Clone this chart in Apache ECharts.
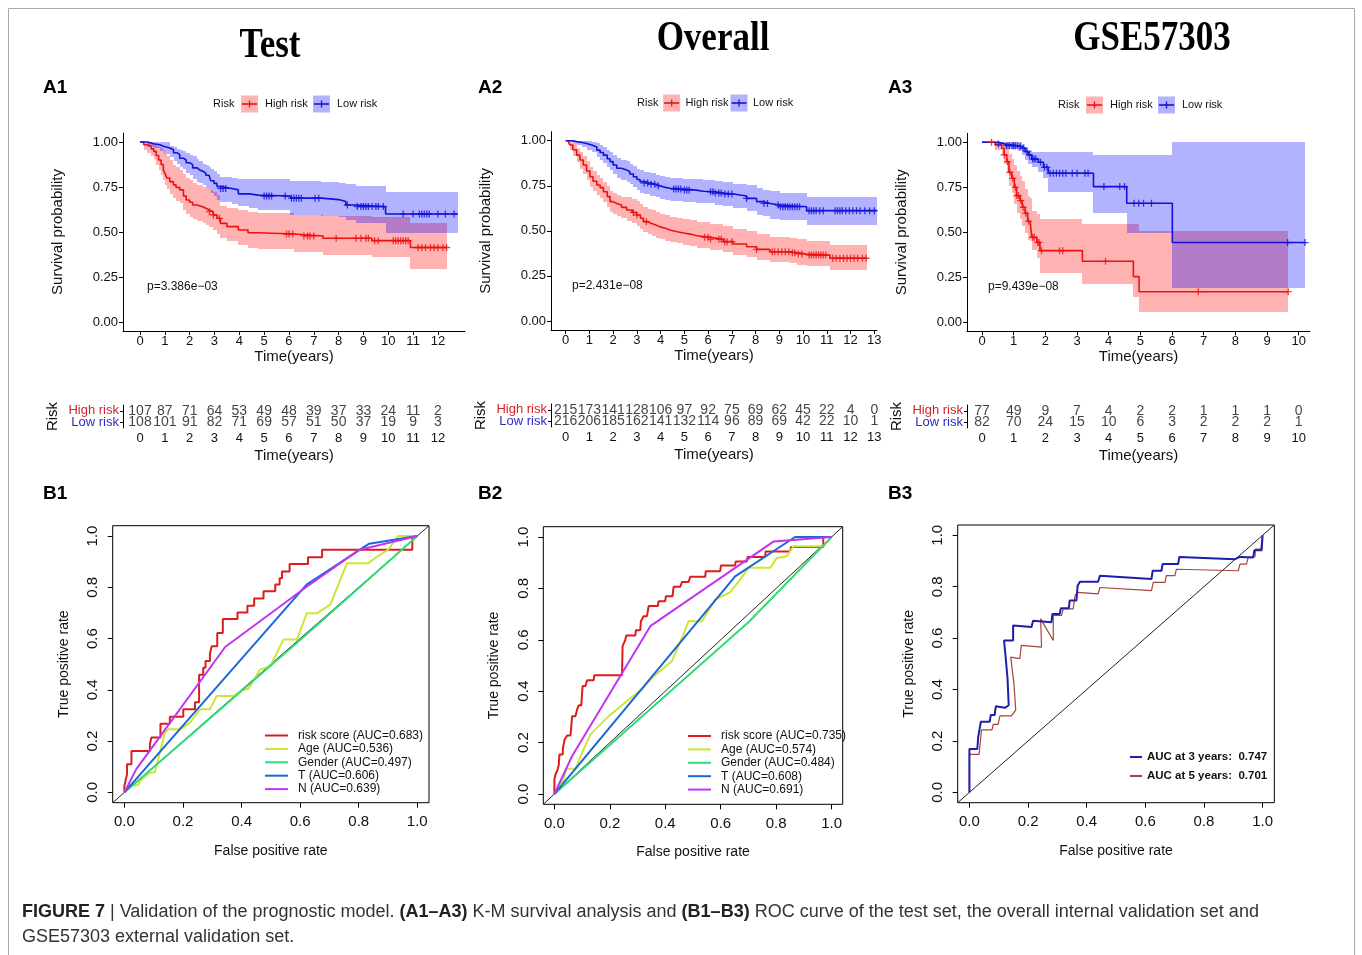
<!DOCTYPE html>
<html>
<head>
<meta charset="utf-8">
<script src="https://cdn.jsdelivr.net/npm/echarts@6/dist/echarts.min.js"></script>
<style>
html,body{margin:0;padding:0;background:#fff}
#chart{width:1362px;height:955px}
</style>
</head>
<body>
<div id="chart"></div>
<script>
// ---------- Kaplan-Meier: Test set ----------
const a1Years = [0,1,2,3,4,5,6,7,8,9,10,11,12];
const a1HighTime  = [0,0.15,0.29,0.45,0.55,0.65,0.75,0.85,0.94,1.02,1.08,1.2,1.34,1.45,1.6,1.75,1.86,2.0,2.12,2.3,2.52,2.65,2.78,2.95,3.1,3.24,3.5,3.96,4.35,4.75,6.19,7.37,9.34,10.89,12.35];
const a1HighSurv  = [1.0,0.985,0.976,0.962,0.948,0.925,0.90,0.875,0.846,0.82,0.80,0.78,0.762,0.748,0.734,0.70,0.678,0.665,0.65,0.64,0.632,0.622,0.613,0.595,0.576,0.548,0.53,0.511,0.496,0.489,0.478,0.465,0.452,0.414,0.414];
const a1HighUpper = [1,1,1,0.995,0.99,0.98,0.97,0.965,0.955,0.935,0.92,0.9,0.87,0.86,0.845,0.82,0.80,0.79,0.77,0.76,0.75,0.745,0.735,0.72,0.705,0.645,0.635,0.625,0.61,0.605,0.595,0.59,0.585,0.548,0.548];
const a1HighLower = [1,0.955,0.94,0.925,0.905,0.875,0.845,0.815,0.79,0.76,0.74,0.71,0.69,0.675,0.66,0.625,0.60,0.585,0.57,0.56,0.55,0.54,0.53,0.51,0.49,0.465,0.45,0.43,0.41,0.405,0.39,0.375,0.362,0.297,0.297];
const a1HighCensor = [2.8,2.95,3.2,5.9,6.0,6.15,6.6,6.75,6.85,7.0,7.9,8.7,8.9,9.1,9.2,9.45,9.6,10.2,10.3,10.4,10.5,10.6,10.7,10.8,11.2,11.35,11.5,11.7,11.85,12.0,12.2,12.35];
const a1LowTime  = [0,0.3,0.55,0.8,0.95,1.2,1.35,1.5,1.6,1.75,1.86,2.0,2.12,2.3,2.39,2.55,2.65,2.78,2.85,2.98,3.1,3.24,3.7,3.96,4.4,4.75,6.06,7.3,8.0,8.29,8.68,9.89,12.8];
const a1LowSurv  = [1.0,0.99,0.985,0.976,0.967,0.957,0.94,0.93,0.91,0.90,0.885,0.874,0.856,0.846,0.836,0.827,0.815,0.805,0.785,0.77,0.753,0.742,0.734,0.712,0.705,0.70,0.688,0.68,0.669,0.65,0.641,0.60,0.60];
const a1LowUpper = [1,1,1,1,1,0.976,0.97,0.96,0.955,0.948,0.94,0.93,0.92,0.905,0.892,0.88,0.87,0.86,0.85,0.84,0.825,0.805,0.80,0.795,0.795,0.794,0.785,0.78,0.775,0.765,0.755,0.725,0.725];
const a1LowLower = [1,0.975,0.965,0.95,0.935,0.915,0.895,0.88,0.86,0.85,0.83,0.815,0.795,0.78,0.77,0.76,0.745,0.735,0.715,0.70,0.68,0.665,0.655,0.645,0.635,0.625,0.595,0.59,0.585,0.565,0.548,0.495,0.495];
const a1LowCensor = [3.25,3.35,3.45,5.0,5.1,5.2,5.3,5.85,6.1,6.2,6.3,6.4,6.5,7.05,7.2,8.35,8.75,8.9,9.0,9.1,9.2,9.35,9.5,9.6,9.8,10.6,11.0,11.25,11.35,11.45,11.55,11.65,12.0,12.3,12.65];
const a1AtRiskHigh = [107,87,71,64,53,49,48,39,37,33,24,11,2];
const a1AtRiskLow  = [108,101,91,82,71,69,57,51,50,37,19,9,3];

// ---------- Kaplan-Meier: Overall ----------
const a2Years = [0,1,2,3,4,5,6,7,8,9,10,11,12,13];
const a2HighTime  = [0,0.1,0.18,0.3,0.46,0.6,0.74,0.88,1.02,1.15,1.31,1.45,1.59,1.75,1.87,2.0,2.15,2.35,2.57,2.8,2.99,3.15,3.27,3.45,3.62,3.8,3.97,4.2,4.39,4.7,4.96,5.25,5.52,6.08,6.64,7.06,7.62,8.04,8.6,9.45,9.73,10.15,11.13,12.68];
const a2HighSurv  = [1.0,0.99,0.976,0.95,0.92,0.893,0.865,0.832,0.80,0.775,0.754,0.74,0.717,0.69,0.662,0.652,0.643,0.63,0.616,0.602,0.588,0.57,0.551,0.541,0.532,0.522,0.514,0.505,0.495,0.488,0.482,0.473,0.464,0.453,0.44,0.427,0.412,0.397,0.384,0.379,0.372,0.366,0.348,0.348];
const a2HighUpper = [1.0,1.0,1.0,0.985,0.96,0.94,0.915,0.885,0.855,0.83,0.81,0.795,0.772,0.748,0.72,0.71,0.70,0.688,0.69,0.678,0.665,0.648,0.632,0.622,0.613,0.603,0.595,0.586,0.578,0.572,0.567,0.558,0.55,0.54,0.528,0.513,0.5,0.485,0.465,0.46,0.453,0.445,0.42,0.42];
const a2HighLower = [1.0,0.975,0.95,0.915,0.88,0.845,0.815,0.78,0.745,0.72,0.698,0.683,0.66,0.632,0.603,0.593,0.584,0.572,0.557,0.543,0.528,0.51,0.492,0.482,0.473,0.463,0.455,0.446,0.437,0.43,0.423,0.415,0.405,0.394,0.381,0.368,0.353,0.338,0.325,0.32,0.313,0.307,0.285,0.285];
const a2HighCensor = [2.85,3.0,3.4,5.85,6.0,6.1,6.45,6.55,6.7,6.8,7.0,8.04,8.7,8.8,8.95,9.1,9.25,9.4,9.55,9.65,9.8,9.95,10.25,10.35,10.45,10.55,10.65,10.75,10.85,10.95,11.25,11.4,11.55,11.7,11.85,12.0,12.15,12.3,12.5,12.65];
const a2LowTime  = [0,0.3,0.46,0.7,0.88,1.1,1.31,1.45,1.59,1.75,1.87,2.0,2.15,2.35,2.57,2.7,2.85,3.0,3.13,3.3,3.55,3.8,3.97,4.2,4.39,4.96,5.5,5.8,6.3,6.64,7.06,7.62,8.04,8.3,8.6,9.03,10.15,13.1];
const a2LowSurv  = [1.0,0.995,0.99,0.985,0.976,0.965,0.948,0.935,0.92,0.90,0.884,0.865,0.847,0.838,0.828,0.815,0.80,0.785,0.773,0.765,0.758,0.75,0.741,0.736,0.732,0.726,0.72,0.717,0.71,0.704,0.693,0.68,0.662,0.652,0.643,0.634,0.612,0.612];
const a2LowUpper = [1,1,1,1,1,0.995,0.985,0.975,0.965,0.95,0.935,0.92,0.905,0.895,0.885,0.872,0.86,0.845,0.835,0.828,0.82,0.812,0.805,0.80,0.795,0.79,0.785,0.782,0.777,0.772,0.762,0.752,0.735,0.727,0.72,0.71,0.685,0.685];
const a2LowLower = [1,0.985,0.975,0.965,0.95,0.935,0.912,0.895,0.875,0.852,0.835,0.815,0.795,0.783,0.772,0.758,0.742,0.725,0.712,0.703,0.695,0.686,0.677,0.672,0.668,0.662,0.655,0.652,0.645,0.637,0.625,0.61,0.59,0.58,0.568,0.558,0.535,0.535];
const a2LowCensor = [3.3,3.45,3.6,3.75,3.9,4.55,4.65,4.75,4.85,5.0,5.1,5.2,6.1,6.2,6.3,6.45,6.55,6.7,6.85,7.0,7.62,8.35,8.5,8.95,9.05,9.15,9.25,9.35,9.45,9.55,9.65,9.75,9.85,10.25,10.35,10.45,10.55,10.7,10.85,11.35,11.45,11.55,11.65,11.8,11.95,12.1,12.25,12.4,12.6,12.8,13.0];
const a2AtRiskHigh = [215,173,141,128,106,97,92,75,69,62,45,22,4,0];
const a2AtRiskLow  = [216,206,185,162,141,132,114,96,89,69,42,22,10,1];

// ---------- Kaplan-Meier: GSE57303 ----------
const a3Years = [0,1,2,3,4,5,6,7,8,9,10];
const a3HighTime  = [0,0.41,0.62,0.7,0.78,0.85,0.94,1.02,1.09,1.2,1.27,1.36,1.44,1.52,1.57,1.73,1.83,3.17,4.78,4.96,9.67];
const a3HighSurv  = [1.0,0.985,0.967,0.93,0.893,0.833,0.80,0.75,0.704,0.676,0.639,0.606,0.561,0.55,0.472,0.444,0.398,0.339,0.254,0.17,0.17];
const a3HighUpper = [1,1,1,0.99,0.97,0.935,0.91,0.875,0.84,0.815,0.785,0.74,0.7,0.69,0.62,0.6,0.574,0.546,0.546,0.505,0.505];
const a3HighLower = [1,0.96,0.93,0.88,0.83,0.76,0.72,0.66,0.61,0.575,0.535,0.495,0.46,0.45,0.40,0.36,0.276,0.213,0.14,0.056,0.056];
const a3HighCensor = [0.3,0.7,0.8,0.88,0.97,1.05,1.1,1.15,1.22,1.3,1.38,1.47,1.6,1.65,1.76,1.8,1.88,2.45,2.55,3.9,6.83,9.67];
const a3LowTime  = [0,0.52,0.73,1.15,1.25,1.36,1.46,1.57,1.78,1.94,2.09,3.52,4.57,6.01,10.2];
const a3LowSurv  = [1.0,0.99,0.981,0.976,0.967,0.948,0.93,0.907,0.889,0.861,0.828,0.754,0.661,0.443,0.443];
const a3LowUpper = [1,1,1,1,0.99,0.975,0.955,0.948,0.945,0.944,0.944,0.932,0.93,1,1];
const a3LowLower = [1,0.98,0.965,0.95,0.93,0.9,0.88,0.861,0.835,0.8,0.722,0.606,0.497,0.19,0.19];
const a3LowCensor = [0.52,0.78,0.86,0.95,1.0,1.05,1.12,1.2,1.3,1.42,1.5,1.6,1.65,1.7,1.85,1.97,2.05,2.15,2.25,2.35,2.45,2.55,2.65,2.85,3.0,3.25,3.35,3.85,4.35,4.5,4.8,4.95,5.1,5.35,9.65,10.2];
const a3AtRiskHigh = [77,49,9,7,4,2,2,1,1,1,0];
const a3AtRiskLow  = [82,70,24,15,10,6,3,2,2,2,1];

const survTicks = [0,0.25,0.5,0.75,1];
const riskRows = ['Low risk','High risk'];

// ---------- ROC: Test set ----------
const b1Names = ['risk score (AUC=0.683)','Age (AUC=0.536)','Gender (AUC=0.497)','T (AUC=0.606)','N (AUC=0.639)'];
const b1RiskFpr = [0,0,0.005,0.005,0.009,0.009,0.024,0.024,0.087,0.087,0.092,0.092,0.123,0.123,0.155,0.155,0.201,0.201,0.241,0.241,0.255,0.255,0.269,0.269,0.277,0.277,0.292,0.292,0.298,0.298,0.317,0.317,0.336,0.336,0.386,0.386,0.42,0.42,0.443,0.443,0.475,0.475,0.515,0.515,0.53,0.53,0.538,0.538,0.564,0.564,0.627,0.627,0.675,0.675,0.983,0.983,1];
const b1RiskTpr = [0,0.026,0.026,0.052,0.071,0.11,0.11,0.162,0.162,0.188,0.188,0.214,0.214,0.268,0.268,0.295,0.295,0.324,0.324,0.352,0.352,0.459,0.459,0.486,0.486,0.512,0.512,0.541,0.541,0.57,0.57,0.622,0.622,0.676,0.676,0.702,0.702,0.728,0.728,0.756,0.756,0.784,0.784,0.811,0.811,0.835,0.835,0.861,0.861,0.891,0.891,0.917,0.917,0.946,0.946,0.997,1];
const b1AgeFpr = [0,0.018,0.047,0.053,0.087,0.104,0.138,0.15,0.19,0.224,0.258,0.292,0.315,0.372,0.401,0.424,0.463,0.498,0.509,0.543,0.589,0.623,0.658,0.703,0.76,0.834,0.863,0.9,0.935,1];
const b1AgeTpr = [0,0.028,0.028,0.045,0.078,0.078,0.233,0.246,0.246,0.272,0.324,0.324,0.376,0.376,0.399,0.404,0.479,0.492,0.518,0.596,0.596,0.699,0.699,0.732,0.894,0.894,0.92,0.946,1,1];
const b1GenderFpr = [0,0.6,1];
const b1GenderTpr = [0,0.594,1];
const b1TFpr = [0,0.622,0.836,1];
const b1TTpr = [0,0.81,0.97,1];
const b1NFpr = [0,0.04,0.344,0.62,0.8,1];
const b1NTpr = [0,0.09,0.567,0.8,0.945,1];

// ---------- ROC: Overall ----------
const b2Names = ['risk score (AUC=0.735)','Age (AUC=0.574)','Gender (AUC=0.484)','T (AUC=0.608)','N (AUC=0.691)'];
const b2RiskFpr = [0,0,0.004,0.01,0.012,0.016,0.018,0.03,0.031,0.037,0.046,0.058,0.061,0.064,0.076,0.082,0.088,0.097,0.1,0.102,0.112,0.118,0.142,0.144,0.244,0.246,0.256,0.259,0.292,0.294,0.31,0.312,0.322,0.334,0.34,0.373,0.376,0.4,0.402,0.426,0.43,0.454,0.46,0.484,0.49,0.544,0.546,0.598,0.601,0.652,0.654,0.694,0.697,0.76,0.762,0.85,0.854,0.97,0.97,1];
const b2RiskTpr = [0,0.057,0.076,0.076,0.096,0.115,0.154,0.154,0.18,0.212,0.228,0.228,0.264,0.303,0.303,0.329,0.345,0.345,0.394,0.42,0.42,0.443,0.443,0.462,0.462,0.575,0.601,0.617,0.617,0.637,0.637,0.672,0.692,0.692,0.731,0.731,0.75,0.75,0.769,0.769,0.806,0.806,0.825,0.825,0.845,0.845,0.867,0.867,0.889,0.889,0.905,0.905,0.922,0.922,0.944,0.944,0.961,0.961,1,1];
const b2AgeFpr = [0,0.034,0.042,0.076,0.1,0.13,0.16,0.196,0.232,0.268,0.316,0.352,0.388,0.424,0.46,0.484,0.532,0.58,0.634,0.67,0.7,0.778,0.802,0.838,0.862,0.97,1];
const b2AgeTpr = [0,0.057,0.098,0.098,0.161,0.232,0.264,0.303,0.335,0.368,0.407,0.452,0.484,0.517,0.607,0.672,0.672,0.756,0.785,0.834,0.88,0.88,0.918,0.925,0.964,0.964,1];
const b2GenderFpr = [0,0.7,1];
const b2GenderTpr = [0,0.668,1];
const b2TFpr = [0,0.652,0.868,1];
const b2TTpr = [0,0.847,1,1];
const b2NFpr = [0,0.064,0.346,0.79,1];
const b2NTpr = [0,0.148,0.653,0.982,1];

// ---------- ROC: GSE57303 ----------
const b3Names = ['AUC at 3 years:  0.747','AUC at 5 years:  0.701'];
const b3Year3Fpr = [0,0,0.027,0.03,0.039,0.069,0.073,0.086,0.09,0.121,0.134,0.13,0.123,0.118,0.149,0.149,0.212,0.217,0.28,0.283,0.308,0.312,0.339,0.342,0.365,0.369,0.377,0.439,0.445,0.621,0.625,0.655,0.659,0.712,0.716,0.906,0.923,0.968,0.972,0.997,1];
const b3Year3Tpr = [0,0.169,0.169,0.217,0.275,0.275,0.301,0.301,0.335,0.329,0.339,0.443,0.533,0.591,0.591,0.649,0.643,0.668,0.662,0.694,0.694,0.716,0.716,0.746,0.746,0.804,0.819,0.819,0.843,0.83,0.862,0.862,0.888,0.888,0.916,0.907,0.916,0.914,0.942,0.942,1];
const b3Year5Fpr = [0,0,0.033,0.041,0.077,0.081,0.098,0.104,0.143,0.158,0.152,0.141,0.172,0.177,0.246,0.243,0.286,0.286,0.314,0.32,0.354,0.36,0.369,0.439,0.445,0.621,0.627,0.667,0.672,0.701,0.706,0.917,0.923,0.945,0.951,0.974,0.976,0.994,1];
const b3Year5Tpr = [0,0.148,0.148,0.243,0.243,0.265,0.265,0.298,0.298,0.32,0.42,0.526,0.52,0.572,0.565,0.675,0.591,0.688,0.688,0.714,0.714,0.765,0.778,0.772,0.797,0.785,0.817,0.817,0.843,0.843,0.868,0.862,0.888,0.888,0.914,0.917,0.946,0.946,1];

const rocTicks = [0,0.2,0.4,0.6,0.8,1];
const rocExtent = [-0.04, 1.04];

// ---------- styling ----------
const FONT = '"Liberation Sans", Arial, Helvetica, sans-serif';
const RED = '#EA1313';
const BLUE = '#1313D8';
const RED_FILL = 'rgba(255,0,0,0.3)';
const BLUE_FILL = 'rgba(0,0,255,0.3)';
const ROC_COLORS = ['#DD1C1C','#CDE633','#2FDC78','#1A68D6','#C334EE'];
const PLUS = 'path://M0,5L10,5M5,0L5,10';

// layout of each panel (pixels)
const kmGrids = [
  {left:123, top:133, width:342, height:198, xmin:-0.685, xmax:13.09},
  {left:551, top:131.7, width:326, height:198.3, xmin:-0.619, xmax:13.113},
  {left:967, top:133.3, width:343, height:198, xmin:-0.474, xmax:10.357}
];
const tableGrids = [
  {left:123, top:405, width:342, height:23},
  {left:551, top:404, width:326, height:23},
  {left:967, top:405, width:343, height:23}
];
const rocGrids = [
  {left:112.7, top:525.7, width:316.3, height:277},
  {left:543.3, top:526.7, width:299.4, height:277.6},
  {left:957.7, top:525, width:316.6, height:277.7}
];
const yearSets = [a1Years, a2Years, a3Years];

function survAt(times, surv, x) {
  let v = surv[0];
  for (let i = 0; i < times.length; i++) { if (times[i] <= x) v = surv[i]; }
  return v;
}

// confidence band: one pixel-snapped rectangle per step interval
function bandSeries(g, times, lower, upper, fill) {
  const data = times.slice(0, -1).map((t, i) => [t, times[i + 1], lower[i], upper[i]]);
  return {type:'custom', xAxisIndex:g, yAxisIndex:g, silent:true, z:1,
    data, encode:{x:[0,1], y:[2,3]},
    renderItem:(params, api) => {
      const a = api.coord([api.value(0), api.value(3)]);
      const b = api.coord([api.value(1), api.value(2)]);
      const x1 = Math.round(a[0]), x2 = Math.round(b[0]);
      const y1 = Math.round(a[1]), y2 = Math.round(b[1]);
      return {type:'rect', shape:{x:x1, y:y1, width:x2 - x1, height:y2 - y1}, style:{fill}};
    }};
}

function kmCurve(g, times, surv, lower, upper, censor, line, fill) {
  return [
    bandSeries(g, times, lower, upper, fill),
    {type:'line', xAxisIndex:g, yAxisIndex:g, step:'end', symbol:'none', silent:true, z:3,
      data: times.map((t,i)=>[t, surv[i]]), lineStyle:{color:line, width:1.6}},
    {type:'scatter', xAxisIndex:g, yAxisIndex:g, silent:true, z:4,
      data: censor.map(t=>[t, survAt(times, surv, t)]),
      symbol: PLUS, symbolSize: 7,
      itemStyle:{color:'none', borderColor:line, borderWidth:1.3}}
  ];
}

function atRiskRow(g, years, counts, row) {
  return {type:'scatter', xAxisIndex:g, yAxisIndex:g, silent:true,
    data: years.map((y,i)=>[y, row, counts[i]]),
    symbolSize: 0.1, itemStyle:{color:'rgba(0,0,0,0)'},
    label:{show:true, position:'inside', formatter:p=>String(p.value[2]),
      fontSize:14, fontFamily:FONT, color:'#111'}};
}

function rocLine(g, name, fpr, tpr, color, width) {
  return {type:'line', name, xAxisIndex:g, yAxisIndex:g, symbol:'none', silent:true, z:3,
    data: fpr.map((x,i)=>[x, tpr[i]]), lineStyle:{color, width}, itemStyle:{color}};
}

function diagonal(g) {
  return {type:'line', xAxisIndex:g, yAxisIndex:g, symbol:'none', silent:true, z:2,
    data: [[rocExtent[0], rocExtent[0]], [rocExtent[1], rocExtent[1]]],
    lineStyle:{color:'#222', width:1}};
}

const grid = [], xAxis = [], yAxis = [], series = [];

// Kaplan-Meier panels (grid 0-2)
kmGrids.forEach((k,i) => {
  grid.push({left:k.left, top:k.top, width:k.width, height:k.height});
  xAxis.push({gridIndex:i, type:'value', min:k.xmin, max:k.xmax,
    axisLine:{onZero:false, lineStyle:{color:'#000', width:1}},
    axisTick:{customValues:yearSets[i], length:4, lineStyle:{color:'#000'}},
    axisLabel:{customValues:yearSets[i], margin:4, fontSize:13, color:'#111', fontFamily:FONT},
    splitLine:{show:false},
    name:'Time(years)', nameLocation:'middle', nameGap:18,
    nameTextStyle:{fontSize:15, color:'#111', fontFamily:FONT}});
  yAxis.push({gridIndex:i, type:'value', min:-0.05, max:1.05,
    axisLine:{show:true, onZero:false, lineStyle:{color:'#000', width:1}},
    axisTick:{show:true, customValues:survTicks, length:4, lineStyle:{color:'#000'}},
    axisLabel:{customValues:survTicks, formatter:v=>v.toFixed(2), margin:5, fontSize:13, color:'#111', fontFamily:FONT},
    splitLine:{show:false},
    name:'Survival probability', nameLocation:'middle', nameGap:58, nameRotate:90,
    nameTextStyle:{fontSize:15, color:'#111', fontFamily:FONT}});
});

// Number-at-risk tables (grid 3-5)
tableGrids.forEach((t,i) => {
  const k = kmGrids[i];
  grid.push({left:t.left, top:t.top, width:t.width, height:t.height});
  xAxis.push({gridIndex:3+i, type:'value', min:k.xmin, max:k.xmax,
    axisLine:{onZero:false, lineStyle:{color:'#000', width:1}},
    axisTick:{customValues:yearSets[i], length:4, lineStyle:{color:'#000'}},
    axisLabel:{customValues:yearSets[i], margin:4, fontSize:13, color:'#111', fontFamily:FONT},
    splitLine:{show:false},
    name:'Time(years)', nameLocation:'middle', nameGap:20,
    nameTextStyle:{fontSize:15, color:'#111', fontFamily:FONT}});
  yAxis.push({gridIndex:3+i, type:'category', data:riskRows,
    axisLine:{show:true, onZero:false, lineStyle:{color:'#000', width:1}},
    axisTick:{show:true, alignWithLabel:true, length:3, lineStyle:{color:'#000'}},
    axisLabel:{interval:0, margin:4, fontSize:13, fontFamily:FONT,
      color:v => v === 'High risk' ? '#D4232A' : '#2C2CC0'},
    name:'Risk', nameLocation:'middle', nameGap:63, nameRotate:90,
    nameTextStyle:{fontSize:15, color:'#111', fontFamily:FONT}});
});

// ROC panels (grid 6-8)
rocGrids.forEach((r,i) => {
  grid.push({left:r.left, top:r.top, width:r.width, height:r.height, show:true, borderColor:'#000', borderWidth:1});
  xAxis.push({gridIndex:6+i, type:'value', min:rocExtent[0], max:rocExtent[1],
    axisLine:{show:false, onZero:false},
    axisTick:{customValues:rocTicks, length:5, lineStyle:{color:'#000'}},
    axisLabel:{customValues:rocTicks, formatter:v=>v.toFixed(1), margin:12, fontSize:15, color:'#111', fontFamily:FONT},
    splitLine:{show:false},
    name:'False positive rate', nameLocation:'middle', nameGap:41,
    nameTextStyle:{fontSize:14, color:'#111', fontFamily:FONT}});
  yAxis.push({gridIndex:6+i, type:'value', min:rocExtent[0], max:rocExtent[1],
    axisLine:{show:false, onZero:false},
    axisTick:{show:true, customValues:rocTicks, length:5, lineStyle:{color:'#000'}},
    axisLabel:{customValues:rocTicks, formatter:v=>v.toFixed(1), rotate:90, margin:12, fontSize:15, color:'#111', fontFamily:FONT},
    splitLine:{show:false},
    name:'True positive rate', nameLocation:'middle', nameGap:42, nameRotate:90,
    nameTextStyle:{fontSize:14, color:'#111', fontFamily:FONT}});
});

// KM curves
series.push(...kmCurve(0, a1HighTime, a1HighSurv, a1HighLower, a1HighUpper, a1HighCensor, RED, RED_FILL));
series.push(...kmCurve(0, a1LowTime, a1LowSurv, a1LowLower, a1LowUpper, a1LowCensor, BLUE, BLUE_FILL));
series.push(...kmCurve(1, a2HighTime, a2HighSurv, a2HighLower, a2HighUpper, a2HighCensor, RED, RED_FILL));
series.push(...kmCurve(1, a2LowTime, a2LowSurv, a2LowLower, a2LowUpper, a2LowCensor, BLUE, BLUE_FILL));
series.push(...kmCurve(2, a3HighTime, a3HighSurv, a3HighLower, a3HighUpper, a3HighCensor, RED, RED_FILL));
series.push(...kmCurve(2, a3LowTime, a3LowSurv, a3LowLower, a3LowUpper, a3LowCensor, BLUE, BLUE_FILL));

// at-risk numbers
series.push(atRiskRow(3, a1Years, a1AtRiskHigh, 'High risk'), atRiskRow(3, a1Years, a1AtRiskLow, 'Low risk'));
series.push(atRiskRow(4, a2Years, a2AtRiskHigh, 'High risk'), atRiskRow(4, a2Years, a2AtRiskLow, 'Low risk'));
series.push(atRiskRow(5, a3Years, a3AtRiskHigh, 'High risk'), atRiskRow(5, a3Years, a3AtRiskLow, 'Low risk'));

// ROC curves
series.push(diagonal(6), diagonal(7), diagonal(8));
const b1Curves = [[b1RiskFpr,b1RiskTpr],[b1AgeFpr,b1AgeTpr],[b1GenderFpr,b1GenderTpr],[b1TFpr,b1TTpr],[b1NFpr,b1NTpr]];
const b2Curves = [[b2RiskFpr,b2RiskTpr],[b2AgeFpr,b2AgeTpr],[b2GenderFpr,b2GenderTpr],[b2TFpr,b2TTpr],[b2NFpr,b2NTpr]];
b1Curves.forEach((c,i)=>series.push(rocLine(6, b1Names[i], c[0], c[1], ROC_COLORS[i], 2)));
b2Curves.forEach((c,i)=>series.push(rocLine(7, b2Names[i], c[0], c[1], ROC_COLORS[i], 2)));
series.push(rocLine(8, b3Names[1], b3Year5Fpr, b3Year5Tpr, '#A8433D', 1.2));
series.push(rocLine(8, b3Names[0], b3Year3Fpr, b3Year3Tpr, '#1D1DAE', 2));

function rocLegend(names, left, top, opts) {
  return Object.assign({data:names, orient:'vertical', left, top, padding:0,
    icon:'rect', itemWidth:23, itemHeight:2, itemGap:1.4, selectedMode:false,
    textStyle:{fontSize:12, fontFamily:FONT, color:'#111', padding:[0,0,0,5]}}, opts || {});
}

// colour key above each survival panel
function riskKey(x0, y, s) {
  const els = [{type:'text', x:x0, y, style:{text:'Risk', font:'11px ' + FONT, fill:'#111', verticalAlign:'middle'}}];
  [[28,52,'High risk',RED,RED_FILL],[100,124,'Low risk',BLUE,BLUE_FILL]].forEach(e => {
    const bx = x0 + e[0]*s;
    els.push({type:'rect', shape:{x:bx, y:y-8.5, width:17, height:17}, style:{fill:e[4]}});
    els.push({type:'line', shape:{x1:bx+1, y1:y, x2:bx+16, y2:y}, style:{stroke:e[3], lineWidth:1.6}});
    els.push({type:'line', shape:{x1:bx+8.5, y1:y-3.5, x2:bx+8.5, y2:y+3.5}, style:{stroke:e[3], lineWidth:1.3}});
    els.push({type:'text', x:x0 + e[1]*s, y, style:{text:e[2], font:'11px ' + FONT, fill:'#111', verticalAlign:'middle'}});
  });
  return els;
}

function title(text, x, y) {
  return {type:'text', x, y, scaleY:1.2,
    style:{text, font:'bold 35px "Liberation Serif", "Times New Roman", serif', fill:'#000', align:'center', verticalAlign:'middle'}};
}
function tag(text, x, y) {
  return {type:'text', x, y, style:{text, font:'bold 19px ' + FONT, fill:'#000', verticalAlign:'middle'}};
}
function pval(text, x, y) {
  return {type:'text', x, y, style:{text, font:'12px ' + FONT, fill:'#111', verticalAlign:'middle'}};
}

const graphic = [
  {type:'rect', shape:{x:8.5, y:8.5, width:1346, height:960}, style:{fill:'none', stroke:'#a8a8a8', lineWidth:1}},
  title('Test', 270, 46.5), title('Overall', 713, 39), title('GSE57303', 1152, 39),
  tag('A1', 43, 88), tag('A2', 478, 88), tag('A3', 888, 88),
  tag('B1', 43, 494), tag('B2', 478, 494), tag('B3', 888, 494),
  pval('p=3.386e\u221203', 147, 287), pval('p=2.431e\u221208', 572, 286), pval('p=9.439e\u221208', 988, 287),
  ...riskKey(213, 104, 1), ...riskKey(637, 103, 0.935), ...riskKey(1058, 105, 1),
  {type:'text', x:22, y:912, style:{
    text:'{b|FIGURE 7} | Validation of the prognostic model. {b|(A1\u2013A3)} K-M survival analysis and {b|(B1\u2013B3)} ROC curve of the test set, the overall internal validation set and',
    font:'18px ' + FONT, fill:'#333', verticalAlign:'middle',
    rich:{b:{fontWeight:'bold', fontSize:18, fontFamily:FONT, fill:'#222'}}}},
  {type:'text', x:22, y:937, style:{text:'GSE57303 external validation set.', font:'18px ' + FONT, fill:'#333', verticalAlign:'middle'}}
];

const option = {
  animation:false,
  backgroundColor:'#fff',
  grid, xAxis, yAxis, series, graphic,
  legend:[
    rocLegend(b1Names, 265, 729.5),
    rocLegend(b2Names, 688, 730),
    rocLegend(b3Names, 1130, 751, {itemWidth:12, itemGap:7, textStyle:{fontSize:11.5, fontWeight:'bold', fontFamily:FONT, color:'#111'}})
  ]
};

const chart = echarts.init(document.getElementById('chart'), null, {renderer:'canvas'});
chart.setOption(option);
</script>
</body>
</html>
